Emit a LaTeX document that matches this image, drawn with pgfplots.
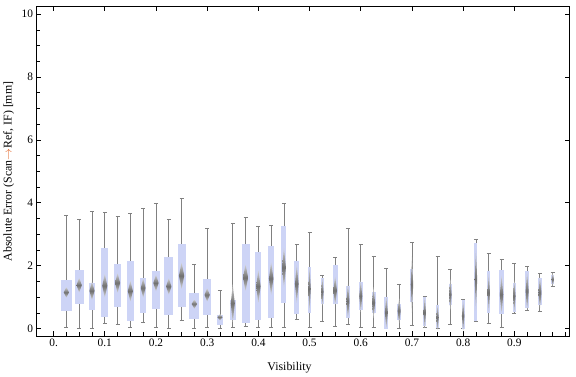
\documentclass[border=0pt]{standalone}
\usepackage{fontspec}
\setmainfont{Liberation Serif}
\usepackage{pgfplots}
\pgfplotsset{compat=1.18}
\usepgfplotslibrary{statistics}
\definecolor{boxblue}{RGB}{205,212,246}
\definecolor{wgray}{RGB}{128,128,128}
\definecolor{sgray}{RGB}{112,112,112}
\definecolor{arrowc}{RGB}{225,95,30}
% pos, lower whisker, lower quartile, median, upper quartile, upper whisker, box extend
\newcommand\bwbox[7]{%
  \addplot[draw=wgray, line width=0.9pt, boxplot prepared={draw direction=y, draw position=#1,
    lower whisker=#2, lower quartile=#3, median=#4, upper quartile=#5,
    upper whisker=#6, box extend=#7, whisker extend=0.0078}] coordinates {};}
% x, median, half height, half width
\newcommand\spindle[4]{%
  \pgfmathsetmacro\xl{#1-#4}\pgfmathsetmacro\xr{#1+#4}%
  \pgfmathsetmacro\yt{#2+#3}\pgfmathsetmacro\yb{#2-#3}%
  \addplot[draw=none, top color=sgray!30, bottom color=sgray!30, middle color=sgray]
    coordinates {(\xl,#2) (#1,\yt) (\xr,#2) (#1,\yb)} -- cycle;}
\begin{document}
\begin{tikzpicture}
\begin{axis}[
  scale only axis, width=539pt, height=333pt,
  xmin=-0.0335, xmax=1.0072, ymin=-0.236, ymax=10.236,
  axis line style={line width=0.7pt},
  tick align=inside,
  xtick pos=bottom, ytick pos=left,
  xtick={0,0.1,0.2,0.3,0.4,0.5,0.6,0.7,0.8,0.9},
  xticklabels={0.,0.1,0.2,0.3,0.4,0.5,0.6,0.7,0.8,0.9},
  minor xtick={0.025,0.05,0.075,0.125,0.15,0.175,0.225,0.25,0.275,0.325,0.35,0.375,0.425,0.45,0.475,0.525,0.55,0.575,0.625,0.65,0.675,0.725,0.75,0.775,0.825,0.85,0.875,0.925,0.95,0.975,1.0},
  ytick={0,2,4,6,8,10}, yticklabels={0,2,4,6,8,10},
  minor ytick={0.5,1,1.5,2.5,3,3.5,4.5,5,5.5,6.5,7,7.5,8.5,9,9.5},
  major tick length=4.5pt, minor tick length=3.5pt,
  every tick/.style={black, line width=0.6pt},
  ticklabel style={font=\fontsize{11.5}{13}\selectfont},
  label style={font=\fontsize{12}{14}\selectfont},
  xlabel={Visibility},
  ylabel={Absolute Error (Scan{\color{arrowc}$\rightarrow$}Ref, IF) [mm]},
  xlabel style={at={(axis description cs:0.475,-0.096)}, anchor=center},
  ylabel style={at={(axis description cs:-0.052,0.5)}, anchor=center},
  boxplot/draw direction=y,
  boxplot/every box/.style={draw=none, fill=boxblue},
  boxplot/every whisker/.style={draw=wgray, line width=0.9pt},
  boxplot/every median/.style={draw=none},
]
\bwbox{0.025}{0.02}{0.55}{1.15}{1.54}{3.61}{0.0212}
\bwbox{0.05}{0.0}{0.77}{1.38}{1.86}{3.48}{0.0174}
\bwbox{0.075}{0.0}{0.58}{1.20}{1.45}{3.73}{0.0135}
\bwbox{0.1}{0.15}{0.36}{1.36}{2.55}{3.70}{0.0135}
\bwbox{0.125}{0.12}{0.67}{1.45}{2.04}{3.57}{0.0135}
\bwbox{0.15}{0.02}{0.24}{1.19}{2.14}{3.66}{0.0135}
\bwbox{0.175}{0.18}{0.48}{1.29}{1.60}{3.83}{0.0116}
\bwbox{0.2}{0.02}{0.61}{1.45}{1.82}{3.98}{0.0154}
\bwbox{0.225}{0.0}{0.42}{1.34}{2.26}{3.48}{0.0174}
\bwbox{0.25}{0.27}{0.67}{1.68}{2.70}{4.14}{0.0154}
\bwbox{0.275}{0.0}{0.29}{0.78}{1.13}{2.03}{0.0193}
\bwbox{0.3}{0.02}{0.42}{1.07}{1.57}{3.17}{0.0154}
\bwbox{0.325}{0.0}{0.10}{0.36}{0.44}{1.22}{0.0135}
\bwbox{0.35}{0.02}{0.26}{0.80}{0.91}{3.35}{0.0116}
\bwbox{0.375}{0.08}{0.17}{1.62}{2.70}{3.54}{0.0154}
\bwbox{0.4}{0.02}{0.26}{1.34}{2.45}{3.26}{0.0116}
\bwbox{0.425}{0.05}{0.32}{1.59}{2.64}{3.29}{0.0116}
\bwbox{0.45}{0.05}{0.80}{1.94}{3.27}{3.98}{0.0097}
\bwbox{0.475}{0.30}{0.45}{1.42}{2.14}{2.69}{0.0097}
\bwbox{0.5}{0.05}{0.48}{1.26}{1.95}{3.07}{0.0058}
\bwbox{0.525}{0.24}{0.77}{1.17}{1.60}{1.70}{0.0058}
\bwbox{0.55}{0.08}{0.77}{1.21}{2.01}{2.26}{0.0097}
\bwbox{0.575}{0.14}{0.34}{0.87}{1.34}{3.18}{0.0077}
\bwbox{0.6}{0.04}{0.59}{1.03}{1.49}{2.68}{0.0077}
\bwbox{0.625}{0.04}{0.50}{0.82}{1.15}{2.30}{0.0077}
\bwbox{0.65}{0.0}{0.0}{0.51}{0.99}{1.92}{0.0077}
\bwbox{0.675}{0.0}{0.28}{0.56}{0.77}{1.39}{0.0077}
\bwbox{0.7}{0.10}{0.84}{1.40}{1.90}{2.74}{0.0058}
\bwbox{0.725}{0.04}{0.07}{0.51}{0.99}{1.03}{0.0058}
\bwbox{0.75}{0.0}{0.01}{0.35}{0.74}{2.30}{0.0058}
\bwbox{0.775}{0.13}{0.75}{1.08}{1.43}{1.87}{0.0058}
\bwbox{0.8}{0.0}{0.0}{0.40}{0.92}{0.92}{0.0058}
\bwbox{0.825}{0.23}{0.23}{1.56}{2.72}{2.84}{0.0058}
\bwbox{0.85}{0.16}{0.50}{1.14}{1.84}{2.40}{0.0058}
\bwbox{0.875}{0.04}{0.47}{1.08}{1.87}{2.21}{0.0097}
\bwbox{0.9}{0.48}{0.53}{1.03}{1.46}{2.08}{0.0058}
\bwbox{0.925}{0.59}{0.64}{1.19}{1.84}{1.96}{0.0077}
\bwbox{0.95}{0.54}{0.75}{1.14}{1.62}{1.74}{0.0077}
\bwbox{0.975}{1.34}{1.41}{1.56}{1.70}{1.77}{0.0058}
\spindle{0.025}{1.15}{0.17}{0.0052}
\spindle{0.05}{1.38}{0.23}{0.0052}
\spindle{0.075}{1.20}{0.29}{0.0050}
\spindle{0.1}{1.36}{0.37}{0.0050}
\spindle{0.125}{1.45}{0.31}{0.0050}
\spindle{0.15}{1.19}{0.33}{0.0050}
\spindle{0.175}{1.29}{0.31}{0.0046}
\spindle{0.2}{1.45}{0.26}{0.0052}
\spindle{0.225}{1.34}{0.26}{0.0052}
\spindle{0.25}{1.68}{0.42}{0.0052}
\spindle{0.275}{0.78}{0.15}{0.0052}
\spindle{0.3}{1.07}{0.21}{0.0052}
\spindle{0.325}{0.36}{0.10}{0.0050}
\spindle{0.35}{0.80}{0.60}{0.0040}
\spindle{0.375}{1.62}{0.42}{0.0050}
\spindle{0.4}{1.34}{0.52}{0.0044}
\spindle{0.425}{1.59}{0.52}{0.0044}
\spindle{0.45}{1.94}{0.63}{0.0038}
\spindle{0.475}{1.42}{0.60}{0.0036}
\spindle{0.5}{1.26}{0.70}{0.0024}
\spindle{0.525}{1.17}{0.45}{0.0024}
\spindle{0.55}{1.21}{0.45}{0.0036}
\spindle{0.575}{0.87}{0.55}{0.0030}
\spindle{0.6}{1.03}{0.50}{0.0030}
\spindle{0.625}{0.82}{0.50}{0.0030}
\spindle{0.65}{0.51}{0.50}{0.0030}
\spindle{0.675}{0.56}{0.40}{0.0030}
\spindle{0.7}{1.40}{0.90}{0.0024}
\spindle{0.725}{0.51}{0.50}{0.0024}
\spindle{0.75}{0.35}{0.40}{0.0024}
\spindle{0.775}{1.08}{0.50}{0.0024}
\spindle{0.8}{0.40}{0.50}{0.0024}
\spindle{0.825}{1.56}{1.00}{0.0024}
\spindle{0.85}{1.14}{0.60}{0.0024}
\spindle{0.875}{1.08}{0.60}{0.0034}
\spindle{0.9}{1.03}{0.50}{0.0024}
\spindle{0.925}{1.19}{0.60}{0.0030}
\spindle{0.95}{1.14}{0.50}{0.0030}
\spindle{0.975}{1.56}{0.20}{0.0024}
\end{axis}
\begin{axis}[
  scale only axis, width=539pt, height=333pt,
  xmin=-0.0335, xmax=1.0072, ymin=-0.236, ymax=10.236,
  axis line style={draw=none},
  tick align=inside,
  xtick pos=top, ytick pos=right,
  xtick={0,0.1,0.2,0.3,0.4,0.5,0.6,0.7,0.8,0.9},
  ytick={0,2,4,6,8,10},
  xticklabels={}, yticklabels={},
  major tick length=4.5pt,
  every tick/.style={black, line width=0.6pt},
]
\end{axis}
\path (current axis.north east) ++(1pt,4pt);
\end{tikzpicture}
\end{document}
